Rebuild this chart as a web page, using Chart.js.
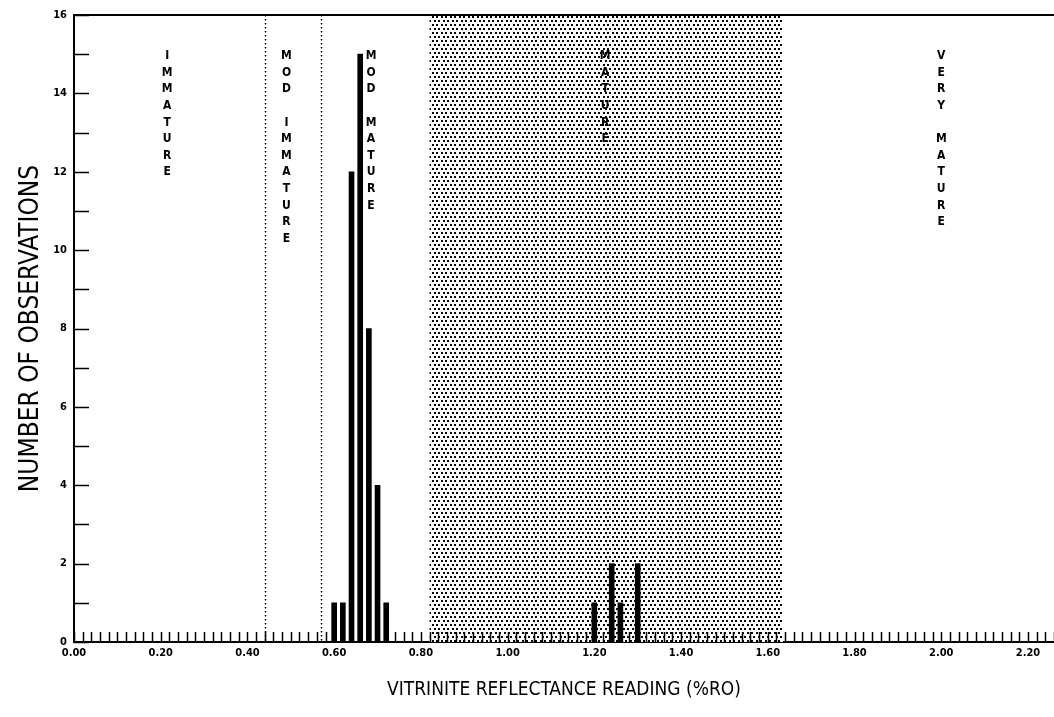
<!DOCTYPE html>
<html>
<head>
<meta charset="utf-8">
<script src="https://cdn.jsdelivr.net/npm/chart.js@4.4.1/dist/chart.umd.min.js"></script>
<style>
  html, body { margin: 0; padding: 0; background: #fff; }
  #wrap { width: 1054px; height: 717px; position: relative; }
</style>
</head>
<body>
<div id="wrap"><canvas id="c"></canvas></div>
<script>
// ---- data ----
const binCenters = [0.60, 0.62, 0.64, 0.66, 0.68, 0.70, 0.72, 1.20, 1.24, 1.26, 1.30];
const observationCounts = [1, 1, 12, 15, 8, 4, 1, 1, 2, 1, 2];
const xTickLabels = ['0.00','0.20','0.40','0.60','0.80','1.00','1.20','1.40','1.60','1.80','2.00','2.20'];
const yTickLabels = ['0','2','4','6','8','10','12','14','16'];
const zoneBoundaries = [0.44, 0.57, 0.82, 1.635];
const zoneNames = ['IMMATURE', 'MOD IMMATURE', 'MOD MATURE', 'MATURE', 'VERY MATURE'];
const zoneLabelX = [0.215, 0.49, 0.685, 1.225, 2.00];
const xTitle = 'VITRINITE REFLECTANCE READING (%RO)';
const yTitle = 'NUMBER OF OBSERVATIONS';

const FONT = "'Liberation Sans Narrow', 'DejaVu Sans Condensed', 'Liberation Sans', sans-serif";

function makeDotPattern(ctx) {
  const p = document.createElement('canvas');
  p.width = 9; p.height = 8;
  const g = p.getContext('2d');
  g.fillStyle = '#fff'; g.fillRect(0, 0, 9, 8);
  g.fillStyle = '#000';
  [[0,0],[4,0],[2,4],[6,4]].forEach(([x,y]) => g.fillRect(x, y, 2, 2));
  return ctx.createPattern(p, 'repeat');
}

const zonePlugin = {
  id: 'zones',
  beforeDatasetsDraw(chart) {
    const {ctx, chartArea: a, scales: {x, y}} = chart;
    ctx.save();
    const x0 = x.getPixelForValue(zoneBoundaries[2]);
    const x1 = x.getPixelForValue(zoneBoundaries[3]);
    ctx.fillStyle = makeDotPattern(ctx);
    ctx.fillRect(x0, a.top, x1 - x0, a.bottom - a.top);
    ctx.strokeStyle = '#000';
    ctx.lineWidth = 1.5;
    ctx.setLineDash([1.5, 2.5]);
    [zoneBoundaries[0], zoneBoundaries[1]].forEach(v => {
      const px = Math.round(x.getPixelForValue(v)) + 0.5;
      ctx.beginPath(); ctx.moveTo(px, a.top); ctx.lineTo(px, a.bottom); ctx.stroke();
    });
    ctx.setLineDash([]);
    ctx.lineWidth = 2;
    ctx.beginPath(); ctx.moveTo(a.left, a.top); ctx.lineTo(a.right, a.top); ctx.stroke();
    ctx.restore();
  },
  afterDatasetsDraw(chart) {
    const {ctx, chartArea: a, scales: {x, y}} = chart;
    ctx.save();
    ctx.strokeStyle = '#000';
    ctx.lineWidth = 1.5;
    x.ticks.forEach(t => {
      const px = Math.round(x.getPixelForValue(t.value)) + 0.5;
      ctx.beginPath(); ctx.moveTo(px, a.bottom); ctx.lineTo(px, a.bottom - 10); ctx.stroke();
    });
    y.ticks.forEach(t => {
      const py = Math.round(y.getPixelForValue(t.value)) + 0.5;
      ctx.beginPath(); ctx.moveTo(a.left, py); ctx.lineTo(a.left + 15, py); ctx.stroke();
    });
    ctx.fillStyle = '#000';
    ctx.font = 'bold 12px ' + FONT;
    ctx.textAlign = 'center';
    ctx.textBaseline = 'middle';
    const yStart = y.getPixelForValue(14.95);
    zoneNames.forEach((name, i) => {
      const px = x.getPixelForValue(zoneLabelX[i]);
      name.split('').forEach((ch, j) => {
        if (ch !== ' ') ctx.fillText(ch, px, yStart + j * 16.6);
      });
    });
    ctx.restore();
  }
};

new Chart(document.getElementById('c'), {
  type: 'bar',
  data: {
    datasets: [{
      data: binCenters.map((v, i) => ({x: v, y: observationCounts[i]})),
      backgroundColor: '#000',
      borderWidth: 0,
      barThickness: 5
    }]
  },
  options: {
    responsive: true,
    maintainAspectRatio: false,
    animation: false,
    layout: { padding: { left: 0, right: 0, top: 15, bottom: 0 } },
    plugins: { legend: { display: false }, tooltip: { enabled: false } },
    scales: {
      x: {
        type: 'linear',
        min: 0, max: 2.26,
        offset: false,
        grid: { display: false, drawTicks: false },
        border: { display: true, color: '#000', width: 2 },
        ticks: {
          stepSize: 0.02,
          autoSkip: false,
          maxRotation: 0,
          padding: 5,
          color: '#000',
          font: { family: FONT, size: 11, weight: 'bold' },
          callback: (v) => {
            const k = Math.round(v / 0.2);
            return Math.abs(v - k * 0.2) < 1e-6 && k < xTickLabels.length ? xTickLabels[k] : '';
          }
        },
        title: {
          display: true, text: xTitle, color: '#000',
          font: { family: FONT, size: 19 },
          padding: { top: 0, bottom: 16 }
        },
        afterFit: (s) => { s.height = 75; s.paddingRight = 0; }
      },
      y: {
        min: 0, max: 16,
        grid: { display: false, drawTicks: false },
        border: { display: true, color: '#000', width: 2 },
        ticks: {
          stepSize: 1,
          autoSkip: false,
          padding: 7,
          color: '#000',
          font: { family: FONT, size: 11, weight: 'bold' },
          callback: (v) => (v % 2 === 0 ? yTickLabels[v / 2] : '')
        },
        title: {
          display: true, text: yTitle, color: '#000',
          font: { family: FONT, size: 26 },
          padding: { top: 16, bottom: 0 }
        },
        afterFit: (s) => { s.width = 74; }
      }
    }
  },
  plugins: [zonePlugin]
});
</script>
</body>
</html>
